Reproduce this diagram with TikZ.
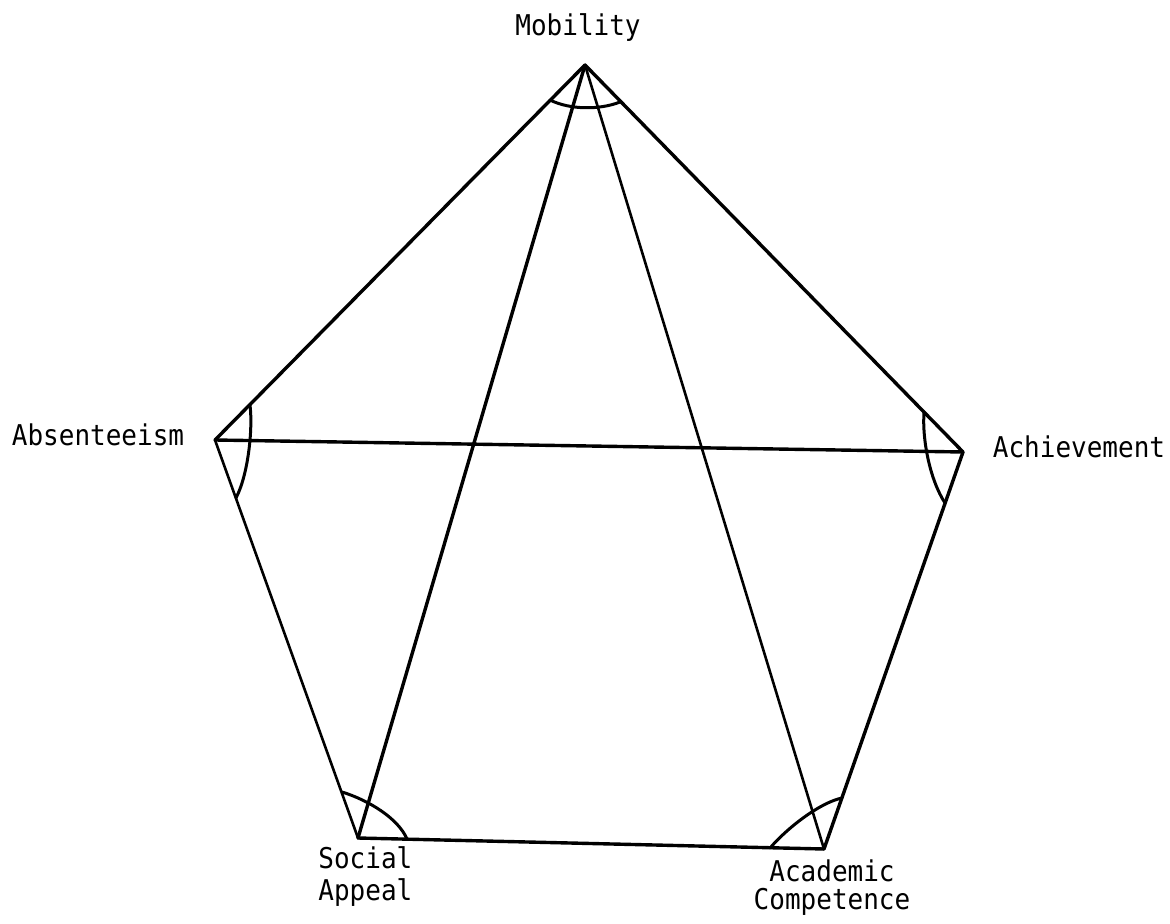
\documentclass[tikz,border=0pt]{standalone}
\usepackage{fontspec}
\newfontfamily\labfont{DejaVu Sans Mono}
\begin{document}
\begin{tikzpicture}[x=0.5pt,y=-0.5pt,
  edge/.style={line width=1.7pt,line join=round,line cap=round},
  anglemark/.style={line width=1.5pt,line cap=round},
  lab/.style={inner sep=0pt,font=\labfont\fontsize{13}{16}\selectfont}]
\useasboundingbox[fill=white] (0,0) rectangle (1170,924);
% vertices
\coordinate (Mob) at (585,65);
\coordinate (Abs) at (215,440);
\coordinate (Ach) at (963,452);
\coordinate (Soc) at (358,838);
\coordinate (Aca) at (824,849);
% pentagon edges
\draw[edge] (Mob) -- (Abs);
\draw[edge] (Mob) -- (Ach);
\draw[edge,line width=1.3pt] (Abs) -- (Soc);
\draw[edge] (Ach) -- (Aca);
\draw[edge] (Soc) -- (Aca);
% diagonals
\draw[edge] (Mob) -- (Soc);
\draw[edge,line width=1.3pt] (Mob) -- (Aca);
\draw[edge] (Abs) -- (Ach);
% angle marks
\draw[anglemark] (550,100) .. controls (570,110) and (600,110) .. (620,102);
\draw[anglemark] (250,405) .. controls (253,430) and (248,475) .. (236,498);
\draw[anglemark] (924,412) .. controls (922,440) and (930,480) .. (945,503);
\draw[anglemark] (342,792) .. controls (368,800) and (398,818) .. (407,839);
\draw[anglemark] (842,798) .. controls (822,802) and (790,825) .. (770,848);
% labels
\node[lab,anchor=base] (lMob) at (578,36) {\scalebox{1}[1.1]{Mobility}};
\node[lab,anchor=base] (lAbs) at (98,445) {\scalebox{1}[1.1]{Absenteeism}};
\node[lab,anchor=base] (lAch) at (1079,457) {\scalebox{1}[1.1]{Achievement}};
\node[lab,anchor=base west] (lSoc1) at (318,868) {\scalebox{1}[1.1]{Social}};
\node[lab,anchor=base west] (lSoc2) at (318,900) {\scalebox{1}[1.1]{Appeal}};
\node[lab,anchor=base] (lAca1) at (832,881) {\scalebox{1}[1.1]{Academic}};
\node[lab,anchor=base] (lAca2) at (832,909) {\scalebox{1}[1.1]{Competence}};
\end{tikzpicture}
\end{document}
